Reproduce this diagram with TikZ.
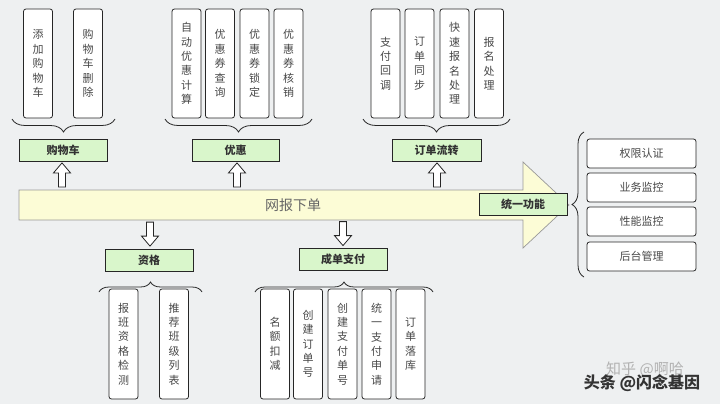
\documentclass[tikz,border=0pt]{standalone}
\usepackage{fontspec}
\newfontfamily\cjk{Noto Sans CJK SC}
\usetikzlibrary{decorations.pathreplacing,calc}
\definecolor{bgc}{HTML}{EEF0F1}
\definecolor{yel}{HTML}{FCFCD6}
\definecolor{grn}{HTML}{D9F6CB}
\definecolor{txt}{HTML}{484848}
\definecolor{bord}{HTML}{262626}
\tikzset{
  vbox/.style={draw=bord, fill=white, rounded corners=2.5pt, line width=0.8pt,
    minimum width=29pt, inner sep=0pt, align=center, text=txt,
    font=\cjk\fontsize{11}{14.4}\selectfont},
  hbox/.style={draw=bord, fill=white, rounded corners=2.5pt, line width=0.8pt,
    minimum width=109pt, minimum height=29pt, inner sep=0pt, text=txt,
    font=\cjk\fontsize{11}{13}\selectfont},
  gbox/.style={draw=bord, fill=grn, line width=0.8pt, minimum width=88pt,
    minimum height=22pt, inner sep=0pt, text=black!80,
    font=\cjk\bfseries\fontsize{11}{13}\selectfont},
  brc/.style={draw=bord, line width=0.8pt, decorate,
    decoration={brace, amplitude=#1}},
  harrow/.style={draw=bord, fill=white, line width=0.8pt, line join=miter},
}
\newcommand\uparrowat[1]{\draw[harrow] (#1) -- ++(8.5,10) -- ++(-5,0) -- ++(0,14) -- ++(-7,0) -- ++(0,-14) -- ++(-5,0) -- cycle;}
\newcommand\downarrowat[1]{\draw[harrow] (#1) -- ++(8.5,-10) -- ++(-5,0) -- ++(0,-14) -- ++(-7,0) -- ++(0,14) -- ++(-5,0) -- cycle;}
\begin{document}
\begin{tikzpicture}[x=1pt,y=-1pt]
\useasboundingbox (0,0) rectangle (720,404);
\fill[bgc] (0,0) rectangle (720,404);

% big yellow arrow
\draw[fill=yel, draw=black!40, line width=0.7pt]
  (19,190) -- (523,190) -- (523,162) -- (569,205) -- (523,248) -- (523,220) -- (19,220) -- cycle;
\node[text=black!60, font=\cjk\fontsize{14}{16}\selectfont] (main) at (293,205) {网报下单};

% top boxes
\foreach \nm/\x/\t in {a1/38/添\\加\\购\\物\\车, a2/88/购\\物\\车\\删\\除,
   b1/186.5/自\\动\\优\\惠\\计\\算, b2/220/优\\惠\\券\\查\\询, b3/254.5/优\\惠\\券\\锁\\定, b4/288.5/优\\惠\\券\\核\\销,
   c1/385.5/支\\付\\回\\调, c2/419.5/订\\单\\同\\步, c3/454.5/快\\速\\报\\名\\处\\理, c4/489/报\\名\\处\\理}
  \node[vbox, minimum height=109pt] (\nm) at (\x,63.5) {\t};

% bottom boxes
\foreach \nm/\x/\t in {d1/123.5/报\\班\\资\\格\\检\\测, d2/174/推\\荐\\班\\级\\列\\表,
   e1/275/名\\额\\扣\\减, e2/308/创\\建\\订\\单\\号, e3/342.5/创\\建\\支\\付\\单\\号, e4/376.5/统\\一\\支\\付\\申\\请, e5/410.5/订\\单\\落\\库}
  \node[vbox, minimum height=110pt] (\nm) at (\x,344) {\t};

% green boxes
\node[gbox] (gcart) at (63,150) {购物车};
\node[gbox, minimum width=87pt] (gdisc) at (235.5,150) {优惠};
\node[gbox, minimum width=89pt] (gorder) at (436.5,150) {订单流转};
\node[gbox] (guni) at (523,204) {统一功能};
\node[gbox] (gqual) at (149,260) {资格};
\node[gbox] (gpay) at (343,259) {成单支付};

% right boxes
\node[hbox] (r1) at (641.5,153.5) {权限认证};
\node[hbox] (r2) at (641.5,187.5) {业务监控};
\node[hbox] (r3) at (641.5,221.5) {性能监控};
\node[hbox] (r4) at (641.5,256.5) {后台管理};

% braces
\draw[brc=13pt] (115,119) -- (12,119);
\draw[brc=13pt] (312,119) -- (165,119);
\draw[brc=13pt] (510,119) -- (363,119);
\draw[brc=10pt] (99,292) -- (202,292);
\draw[brc=10pt] (255,292) -- (433,292);
\draw[brc=12pt] (584,277) -- (584,132);

% hollow arrows
\path (gcart.south) ++(-1,1.5) coordinate (u1);
\path (gdisc.south) ++(1.5,1.5) coordinate (u2);
\path (gorder.south) ++(0.5,1.5) coordinate (u3);
\path (gqual.north) ++(1,-2.5) coordinate (w1);
\path (gpay.north) ++(0,-2) coordinate (w2);
\uparrowat{u1}
\uparrowat{u2}
\uparrowat{u3}
\downarrowat{w1}
\downarrowat{w2}

% watermark
\node[text=black!30, font=\cjk\fontsize{15}{17}\selectfont] (wm1) at (645,369) {知乎 @啊哈};
\node[text=black!80, font=\cjk\bfseries\fontsize{16}{18}\selectfont] (wm2) at (642,383) {头条 @闪念基因};
\end{tikzpicture}
\end{document}
